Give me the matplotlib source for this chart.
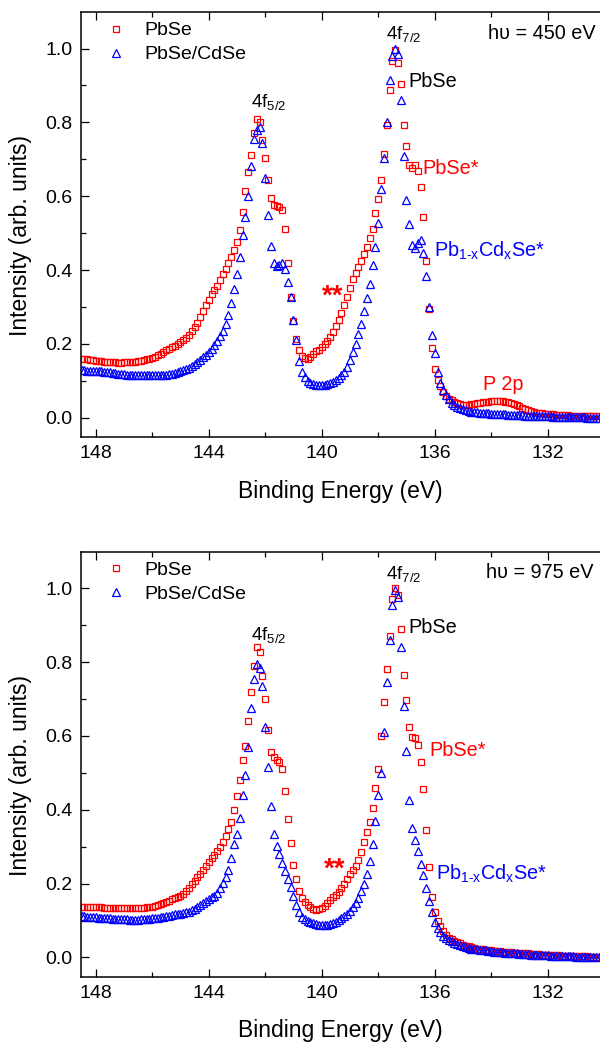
import matplotlib
matplotlib.use("Agg")
import matplotlib.pyplot as plt
from matplotlib.ticker import MultipleLocator

plt.rcParams['font.family'] = ['Liberation Sans', 'DejaVu Sans']
plt.rcParams['mathtext.fontset'] = 'custom'
plt.rcParams['mathtext.rm'] = 'Liberation Sans'
plt.rcParams['mathtext.it'] = 'Liberation Sans:italic'
plt.rcParams['mathtext.default'] = 'regular'

# Binding energy grid (eV), 148.5 -> 130.2 in 0.1 eV steps
energy = [round(148.5 - 0.1 * i, 1) for i in range(184)]

# ---- hv = 450 eV ----
pbse_450 = [
    0.160, 0.159, 0.158, 0.157, 0.156, 0.155, 0.154, 0.153, 0.152, 0.151,
    0.151, 0.150, 0.150, 0.149, 0.149, 0.150, 0.150, 0.151, 0.151, 0.152,
    0.153, 0.155, 0.156, 0.158, 0.160, 0.162, 0.165, 0.169, 0.173, 0.178,
    0.183, 0.187, 0.191, 0.195, 0.199, 0.204, 0.210, 0.217, 0.225, 0.234,
    0.245, 0.258, 0.274, 0.290, 0.305, 0.320, 0.334, 0.347, 0.358, 0.372,
    0.389, 0.404, 0.418, 0.436, 0.455, 0.475, 0.508, 0.558, 0.615, 0.665,
    0.713, 0.772, 0.810, 0.802, 0.752, 0.704, 0.645, 0.595, 0.577, 0.574,
    0.572, 0.564, 0.512, 0.419, 0.328, 0.262, 0.213, 0.184, 0.168, 0.161,
    0.160, 0.164, 0.172, 0.180, 0.185, 0.193, 0.200, 0.207, 0.220, 0.233,
    0.248, 0.264, 0.283, 0.305, 0.328, 0.352, 0.375, 0.393, 0.408, 0.424,
    0.443, 0.462, 0.486, 0.512, 0.555, 0.592, 0.645, 0.715, 0.794, 0.889,
    0.966, 0.995, 0.962, 0.905, 0.792, 0.735, 0.685, 0.677, 0.684, 0.668,
    0.625, 0.545, 0.425, 0.295, 0.188, 0.132, 0.103, 0.085, 0.070, 0.060,
    0.052, 0.047, 0.043, 0.040, 0.038, 0.036, 0.036, 0.036, 0.037, 0.038,
    0.039, 0.040, 0.042, 0.043, 0.044, 0.045, 0.046, 0.046, 0.046, 0.045,
    0.044, 0.043, 0.041, 0.038, 0.034, 0.031, 0.027, 0.024, 0.021, 0.018,
    0.016, 0.014, 0.013, 0.012, 0.011, 0.010, 0.009, 0.009, 0.008, 0.008,
    0.007, 0.007, 0.007, 0.006, 0.006, 0.006, 0.005, 0.005, 0.005, 0.005,
    0.004, 0.004, 0.004, 0.004,
]
cdse_450 = [
    0.129, 0.129, 0.128, 0.128, 0.128, 0.127, 0.127, 0.126, 0.125, 0.124,
    0.123, 0.122, 0.121, 0.120, 0.119, 0.118, 0.117, 0.117, 0.116, 0.116,
    0.115, 0.115, 0.115, 0.115, 0.115, 0.115, 0.115, 0.115, 0.116, 0.116,
    0.117, 0.118, 0.119, 0.121, 0.123, 0.126, 0.129, 0.132, 0.136, 0.140,
    0.145, 0.150, 0.157, 0.164, 0.171, 0.179, 0.187, 0.197, 0.208, 0.221,
    0.236, 0.255, 0.278, 0.310, 0.350, 0.390, 0.435, 0.495, 0.545, 0.600,
    0.681, 0.755, 0.780, 0.788, 0.745, 0.650, 0.550, 0.465, 0.418, 0.410,
    0.413, 0.419, 0.402, 0.368, 0.328, 0.265, 0.210, 0.155, 0.125, 0.110,
    0.100, 0.095, 0.091, 0.089, 0.088, 0.088, 0.089, 0.091, 0.094, 0.098,
    0.102, 0.108, 0.115, 0.124, 0.138, 0.157, 0.178, 0.200, 0.228, 0.255,
    0.290, 0.325, 0.362, 0.415, 0.462, 0.528, 0.620, 0.704, 0.800, 0.915,
    0.980, 0.999, 0.985, 0.860, 0.710, 0.590, 0.525, 0.468, 0.460, 0.474,
    0.482, 0.447, 0.385, 0.300, 0.225, 0.175, 0.125, 0.095, 0.076, 0.061,
    0.050, 0.041, 0.035, 0.030, 0.027, 0.024, 0.021, 0.019, 0.017, 0.016,
    0.015, 0.014, 0.013, 0.012, 0.012, 0.011, 0.011, 0.010, 0.010, 0.009,
    0.009, 0.008, 0.008, 0.008, 0.007, 0.007, 0.007, 0.006, 0.006, 0.006,
    0.005, 0.005, 0.005, 0.004, 0.004, 0.004, 0.004, 0.003, 0.003, 0.003,
    0.003, 0.002, 0.002, 0.002, 0.002, 0.001, 0.001, 0.001, 0.001, 0.000,
    0.000, 0.000, 0.000, 0.000,
]

# ---- hv = 975 eV ----
pbse_975 = [
    0.138, 0.138, 0.137, 0.137, 0.137, 0.136, 0.136, 0.136, 0.135, 0.135,
    0.135, 0.135, 0.134, 0.134, 0.134, 0.134, 0.134, 0.134, 0.134, 0.134,
    0.134, 0.135, 0.135, 0.136, 0.137, 0.138, 0.140, 0.142, 0.145, 0.148,
    0.151, 0.154, 0.157, 0.160, 0.163, 0.166, 0.172, 0.179, 0.188, 0.198,
    0.208, 0.218, 0.227, 0.238, 0.248, 0.258, 0.268, 0.278, 0.288, 0.300,
    0.313, 0.328, 0.348, 0.368, 0.400, 0.436, 0.480, 0.535, 0.572, 0.640,
    0.720, 0.790, 0.840, 0.828, 0.762, 0.700, 0.615, 0.557, 0.542, 0.535,
    0.529, 0.510, 0.450, 0.375, 0.310, 0.250, 0.212, 0.180, 0.161, 0.150,
    0.142, 0.136, 0.131, 0.129, 0.130, 0.133, 0.139, 0.147, 0.155, 0.163,
    0.170, 0.178, 0.188, 0.200, 0.212, 0.225, 0.237, 0.249, 0.265, 0.285,
    0.313, 0.340, 0.368, 0.405, 0.458, 0.510, 0.600, 0.693, 0.780, 0.870,
    0.970, 1.000, 0.982, 0.890, 0.765, 0.697, 0.625, 0.598, 0.594, 0.576,
    0.530, 0.455, 0.345, 0.245, 0.164, 0.122, 0.100, 0.084, 0.072, 0.062,
    0.054, 0.049, 0.045, 0.041, 0.038, 0.035, 0.032, 0.030, 0.028, 0.026,
    0.024, 0.023, 0.022, 0.021, 0.020, 0.019, 0.018, 0.017, 0.017, 0.016,
    0.015, 0.015, 0.014, 0.013, 0.013, 0.012, 0.012, 0.011, 0.011, 0.010,
    0.010, 0.009, 0.009, 0.008, 0.008, 0.007, 0.007, 0.006, 0.006, 0.006,
    0.005, 0.005, 0.005, 0.004, 0.004, 0.004, 0.003, 0.003, 0.003, 0.003,
    0.002, 0.002, 0.002, 0.002,
]
cdse_975 = [
    0.111, 0.111, 0.110, 0.110, 0.109, 0.109, 0.108, 0.107, 0.107, 0.106,
    0.106, 0.105, 0.105, 0.104, 0.104, 0.103, 0.103, 0.102, 0.102, 0.102,
    0.102, 0.103, 0.103, 0.104, 0.105, 0.106, 0.107, 0.108, 0.109, 0.110,
    0.111, 0.113, 0.115, 0.117, 0.118, 0.119, 0.120, 0.122, 0.124, 0.128,
    0.132, 0.136, 0.141, 0.147, 0.153, 0.159, 0.163, 0.167, 0.175, 0.188,
    0.202, 0.218, 0.237, 0.268, 0.306, 0.335, 0.378, 0.440, 0.495, 0.570,
    0.675, 0.755, 0.795, 0.785, 0.735, 0.625, 0.517, 0.410, 0.335, 0.303,
    0.280, 0.255, 0.233, 0.213, 0.191, 0.167, 0.143, 0.122, 0.110, 0.103,
    0.099, 0.096, 0.093, 0.090, 0.088, 0.087, 0.087, 0.088, 0.090, 0.093,
    0.096, 0.101, 0.106, 0.112, 0.119, 0.127, 0.136, 0.148, 0.162, 0.180,
    0.198, 0.225, 0.262, 0.308, 0.370, 0.440, 0.500, 0.610, 0.745, 0.860,
    0.955, 0.995, 0.975, 0.840, 0.680, 0.558, 0.427, 0.350, 0.318, 0.287,
    0.254, 0.222, 0.187, 0.153, 0.123, 0.096, 0.079, 0.068, 0.059, 0.053,
    0.048, 0.044, 0.040, 0.036, 0.033, 0.030, 0.028, 0.026, 0.024, 0.023,
    0.022, 0.021, 0.020, 0.019, 0.018, 0.017, 0.016, 0.015, 0.015, 0.014,
    0.013, 0.013, 0.012, 0.011, 0.011, 0.010, 0.010, 0.009, 0.009, 0.008,
    0.008, 0.007, 0.007, 0.006, 0.006, 0.006, 0.005, 0.005, 0.005, 0.004,
    0.004, 0.004, 0.003, 0.003, 0.003, 0.002, 0.002, 0.002, 0.002, 0.001,
    0.001, 0.001, 0.001, 0.001,
]

series_labels = ['PbSe', 'PbSe/CdSe']
photon_labels = ['h\u03c5 = 450 eV', 'h\u03c5 = 975 eV']
xticks = [148, 144, 140, 136, 132]

RED = '#ff0000'
BLUE = '#0000ff'

fig = plt.figure(figsize=(6, 10.45), dpi=100)
ax1 = fig.add_axes([0.135, 0.5818, 0.865, 0.4067])
ax2 = fig.add_axes([0.135, 0.0654, 0.865, 0.4067])


def style(ax):
    ax.set_xlim(148.52, 130.15)
    ax.set_ylim(-0.052, 1.099)
    ax.set_xticks(xticks)
    ax.xaxis.set_minor_locator(MultipleLocator(2))
    ax.yaxis.set_major_locator(MultipleLocator(0.2))
    ax.yaxis.set_minor_locator(MultipleLocator(0.1))
    ax.tick_params(which='both', direction='in', top=True, right=False,
                   width=0.9, labelsize=14)
    ax.tick_params(which='major', length=6)
    ax.tick_params(which='minor', length=3.5)
    ax.tick_params(axis='x', pad=6)
    ax.tick_params(axis='y', pad=6)
    ax.spines['right'].set_visible(False)
    for s in ['left', 'bottom', 'top']:
        ax.spines[s].set_linewidth(1.1)
    ax.set_xlabel('Binding Energy (eV)', fontsize=16.5)
    ax.set_ylabel('Intensity (arb. units)', fontsize=16.5)
    ax.xaxis.set_label_coords(0.5, -0.1)
    ax.yaxis.set_label_coords(-0.094, 0.474)


def draw(ax, red, blue):
    ax.plot(energy, red, linestyle='none', marker='s', ms=4.1, mfc='none',
            mec=RED, mew=0.9, label=series_labels[0])
    ax.plot(energy, blue, linestyle='none', marker='^', ms=5.2, mfc='none',
            mec=BLUE, mew=0.9, label=series_labels[1])
    ax.legend(loc='upper left', bbox_to_anchor=(0.0295, 0.977), frameon=False,
              fontsize=14, numpoints=1, handlelength=2.0, handletextpad=0.46,
              labelspacing=0.33, borderpad=0, borderaxespad=0)


draw(ax1, pbse_450, cdse_450)
draw(ax2, pbse_975, cdse_975)
style(ax1)
style(ax2)

fs = 14.3
fs4 = 13.5
# top panel annotations
ax1.text(142.50, 0.842, '4f$_{5/2}$', fontsize=fs4, color='black')
ax1.text(137.71, 1.027, '4f$_{7/2}$', fontsize=fs4, color='black')
ax1.text(134.11, 1.027, photon_labels[0], fontsize=fs, color='black')
ax1.text(136.95, 0.897, 'PbSe', fontsize=fs, color='black')
ax1.text(136.44, 0.661, 'PbSe*', fontsize=fs, color=RED)
ax1.text(136.03, 0.437, 'Pb$_{\\text{1-x}}$Cd$_{\\text{x}}$Se*', fontsize=fs, color=BLUE)
ax1.text(139.98, 0.308, '**', fontsize=20, fontweight='bold', color=RED)
ax1.text(134.28, 0.075, 'P 2p', fontsize=fs, color=RED)

# bottom panel annotations
ax2.text(142.50, 0.860, '4f$_{5/2}$', fontsize=fs4, color='black')
ax2.text(137.71, 1.024, '4f$_{7/2}$', fontsize=fs4, color='black')
ax2.text(134.20, 1.027, photon_labels[1], fontsize=fs, color='black')
ax2.text(136.92, 0.880, 'PbSe', fontsize=fs, color='black')
ax2.text(136.20, 0.546, 'PbSe*', fontsize=fs, color=RED)
ax2.text(135.97, 0.210, 'Pb$_{\\text{1-x}}$Cd$_{\\text{x}}$Se*', fontsize=fs, color=BLUE)
ax2.text(139.92, 0.219, '**', fontsize=20, fontweight='bold', color=RED)

fig.savefig('out.png', dpi=100)
